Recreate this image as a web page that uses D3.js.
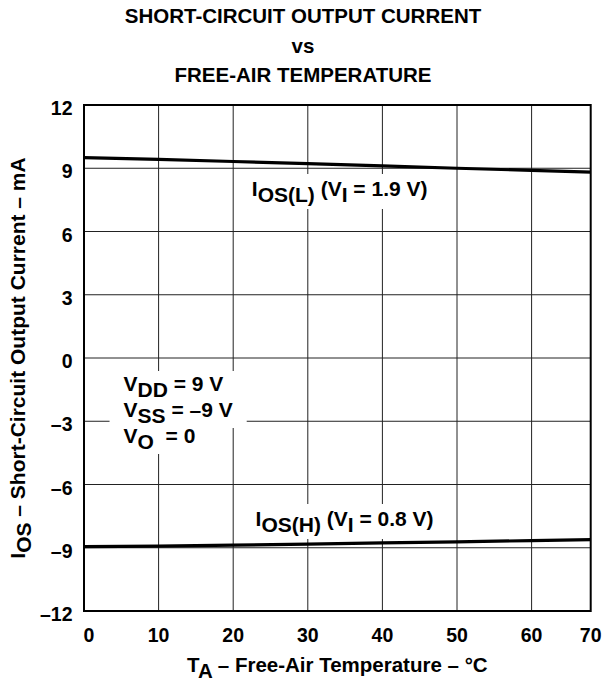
<!DOCTYPE html>
<html>
<head>
<meta charset="utf-8">
<script src="https://cdn.jsdelivr.net/npm/d3@7"></script>
<style>
  body { margin: 0; background: #fff; }
  svg { display: block; font-family: "Liberation Sans", Arial, sans-serif; font-weight: bold; }
</style>
</head>
<body>
<div class="chart"></div>
<script>
// temperature (°C) and short-circuit currents (mA)
const temps = [0, 10, 20, 30, 40, 50, 60, 70];
const iosL = [9.5, 9.42, 9.32, 9.22, 9.11, 9.0, 8.9, 8.8];
const iosH = [-8.95, -8.92, -8.88, -8.83, -8.77, -8.72, -8.66, -8.6];
const xTicks = [0, 10, 20, 30, 40, 50, 60, 70];
const yTicks = [12, 9, 6, 3, 0, -3, -6, -9, -12];
const titleLines = ["SHORT-CIRCUIT OUTPUT CURRENT", "vs", "FREE-AIR TEMPERATURE"];

const width = 604;
const height = 685;
const padLeft = 84, padTop = 105, padBottom = 611, padRight = 590.7;

const svg = d3.select(".chart")
  .append("svg")
  .attr("width", width)
  .attr("height", height);

// the grid spacing in the original runs a bit past the frame on the right
const xScale = d3.scaleLinear().domain([0, 70]).range([padLeft, 606.2]);
const yScale = d3.scaleLinear().domain([-12, 12]).range([padBottom, padTop]);

const fmt = v => (v < 0 ? "\u2013" + Math.abs(v) : String(v));

// title
svg.append("g")
  .selectAll("text")
  .data(titleLines)
  .enter()
  .append("text")
  .attr("x", 303)
  .attr("y", (d, i) => 23 + i * 29.5)
  .attr("text-anchor", "middle")
  .style("font-size", "20.5px")
  .text(d => d);

svg.append("clipPath")
  .attr("id", "plot")
  .append("rect")
  .attr("x", padLeft).attr("y", padTop)
  .attr("width", padRight - padLeft).attr("height", padBottom - padTop);

// grid
const grid = svg.append("g")
  .attr("stroke", "#222")
  .attr("stroke-width", 1)
  .attr("clip-path", "url(#plot)");

grid.selectAll(".vline")
  .data(xTicks.slice(1))
  .enter()
  .append("line")
  .attr("class", "vline")
  .attr("x1", d => xScale(d)).attr("x2", d => xScale(d))
  .attr("y1", padTop).attr("y2", padBottom);

grid.selectAll(".hline")
  .data(yTicks.slice(1, -1))
  .enter()
  .append("line")
  .attr("class", "hline")
  .attr("x1", padLeft).attr("x2", padRight)
  .attr("y1", d => yScale(d)).attr("y2", d => yScale(d));

// curves
const line = d3.line()
  .x((d, i) => xScale(temps[i]))
  .y(d => yScale(d));

const curves = svg.append("g").attr("clip-path", "url(#plot)");
[iosL, iosH].forEach(series => {
  curves.append("path")
    .datum(series)
    .attr("d", line)
    .attr("fill", "none")
    .attr("stroke", "#000")
    .attr("stroke-width", 3.2);
});

// annotations, each line on its own white box that breaks the grid
const bgLayer = svg.append("g");
const textLayer = svg.append("g");

function label(x, y, parts, pad) {
  const t = textLayer.append("text")
    .attr("x", x).attr("y", y)
    .style("font-size", "21px");
  parts.forEach(p => {
    const s = t.append("tspan").text(p[0]);
    if (p[1] === "sub") s.attr("dy", 6);
    if (p[1] === "up") s.attr("dy", -6);
  });
  const b = t.node().getBBox();
  bgLayer.append("rect")
    .attr("fill", "#fff")
    .attr("x", b.x - pad[0]).attr("y", b.y - pad[1])
    .attr("width", b.width + 2 * pad[0]).attr("height", b.height + 2 * pad[1]);
}

label(xScale(22.5), 196, [["I"], ["OS(L)", "sub"], [" (V", "up"], ["I", "sub"], [" = 1.9 V)", "up"]], [8, 3]);
label(xScale(23), 526, [["I"], ["OS(H)", "sub"], [" (V", "up"], ["I", "sub"], [" = 0.8 V)", "up"]], [8, 3]);

const cond = [
  [["V"], ["DD", "sub"], [" = 9 V", "up"]],
  [["V"], ["SS", "sub"], [" = \u20139 V", "up"]],
  [["V"], ["O", "sub"], ["\u00a0 = 0", "up"]]
];
cond.forEach((parts, i) => label(xScale(5.3), 391 + i * 26, parts, [14, 1]));

// frame
svg.append("rect")
  .attr("x", padLeft).attr("y", padTop)
  .attr("width", padRight - padLeft).attr("height", padBottom - padTop)
  .attr("fill", "none")
  .attr("stroke", "#000")
  .attr("stroke-width", 2);

// tick labels
svg.append("g")
  .selectAll("text")
  .data(yTicks)
  .enter()
  .append("text")
  .attr("x", 72.5)
  .attr("y", d => yScale(d) + 10)
  .attr("text-anchor", "end")
  .style("font-size", "19.5px")
  .text(fmt);

svg.append("g")
  .selectAll("text")
  .data(xTicks)
  .enter()
  .append("text")
  .attr("x", d => Math.max(padLeft + 5, Math.min(xScale(d), padRight)))
  .attr("y", 642)
  .attr("text-anchor", "middle")
  .style("font-size", "19.5px")
  .text(String);

// axis titles
const xt = svg.append("text")
  .attr("x", (padLeft + padRight) / 2)
  .attr("y", 672)
  .attr("text-anchor", "middle")
  .style("font-size", "20.5px");
xt.append("tspan").text("T");
xt.append("tspan").attr("dy", 6).text("A");
xt.append("tspan").attr("dy", -6).text(" \u2013 Free-Air Temperature \u2013 \u00b0C");

const yt = svg.append("text")
  .attr("transform", "translate(25," + (padTop + padBottom) / 2 + ") rotate(-90)")
  .attr("text-anchor", "middle")
  .style("font-size", "21px");
yt.append("tspan").text("I");
yt.append("tspan").attr("dy", 6).text("OS");
yt.append("tspan").attr("dy", -6).text(" \u2013 Short-Circuit Output Current \u2013 mA");
</script>
</body>
</html>
